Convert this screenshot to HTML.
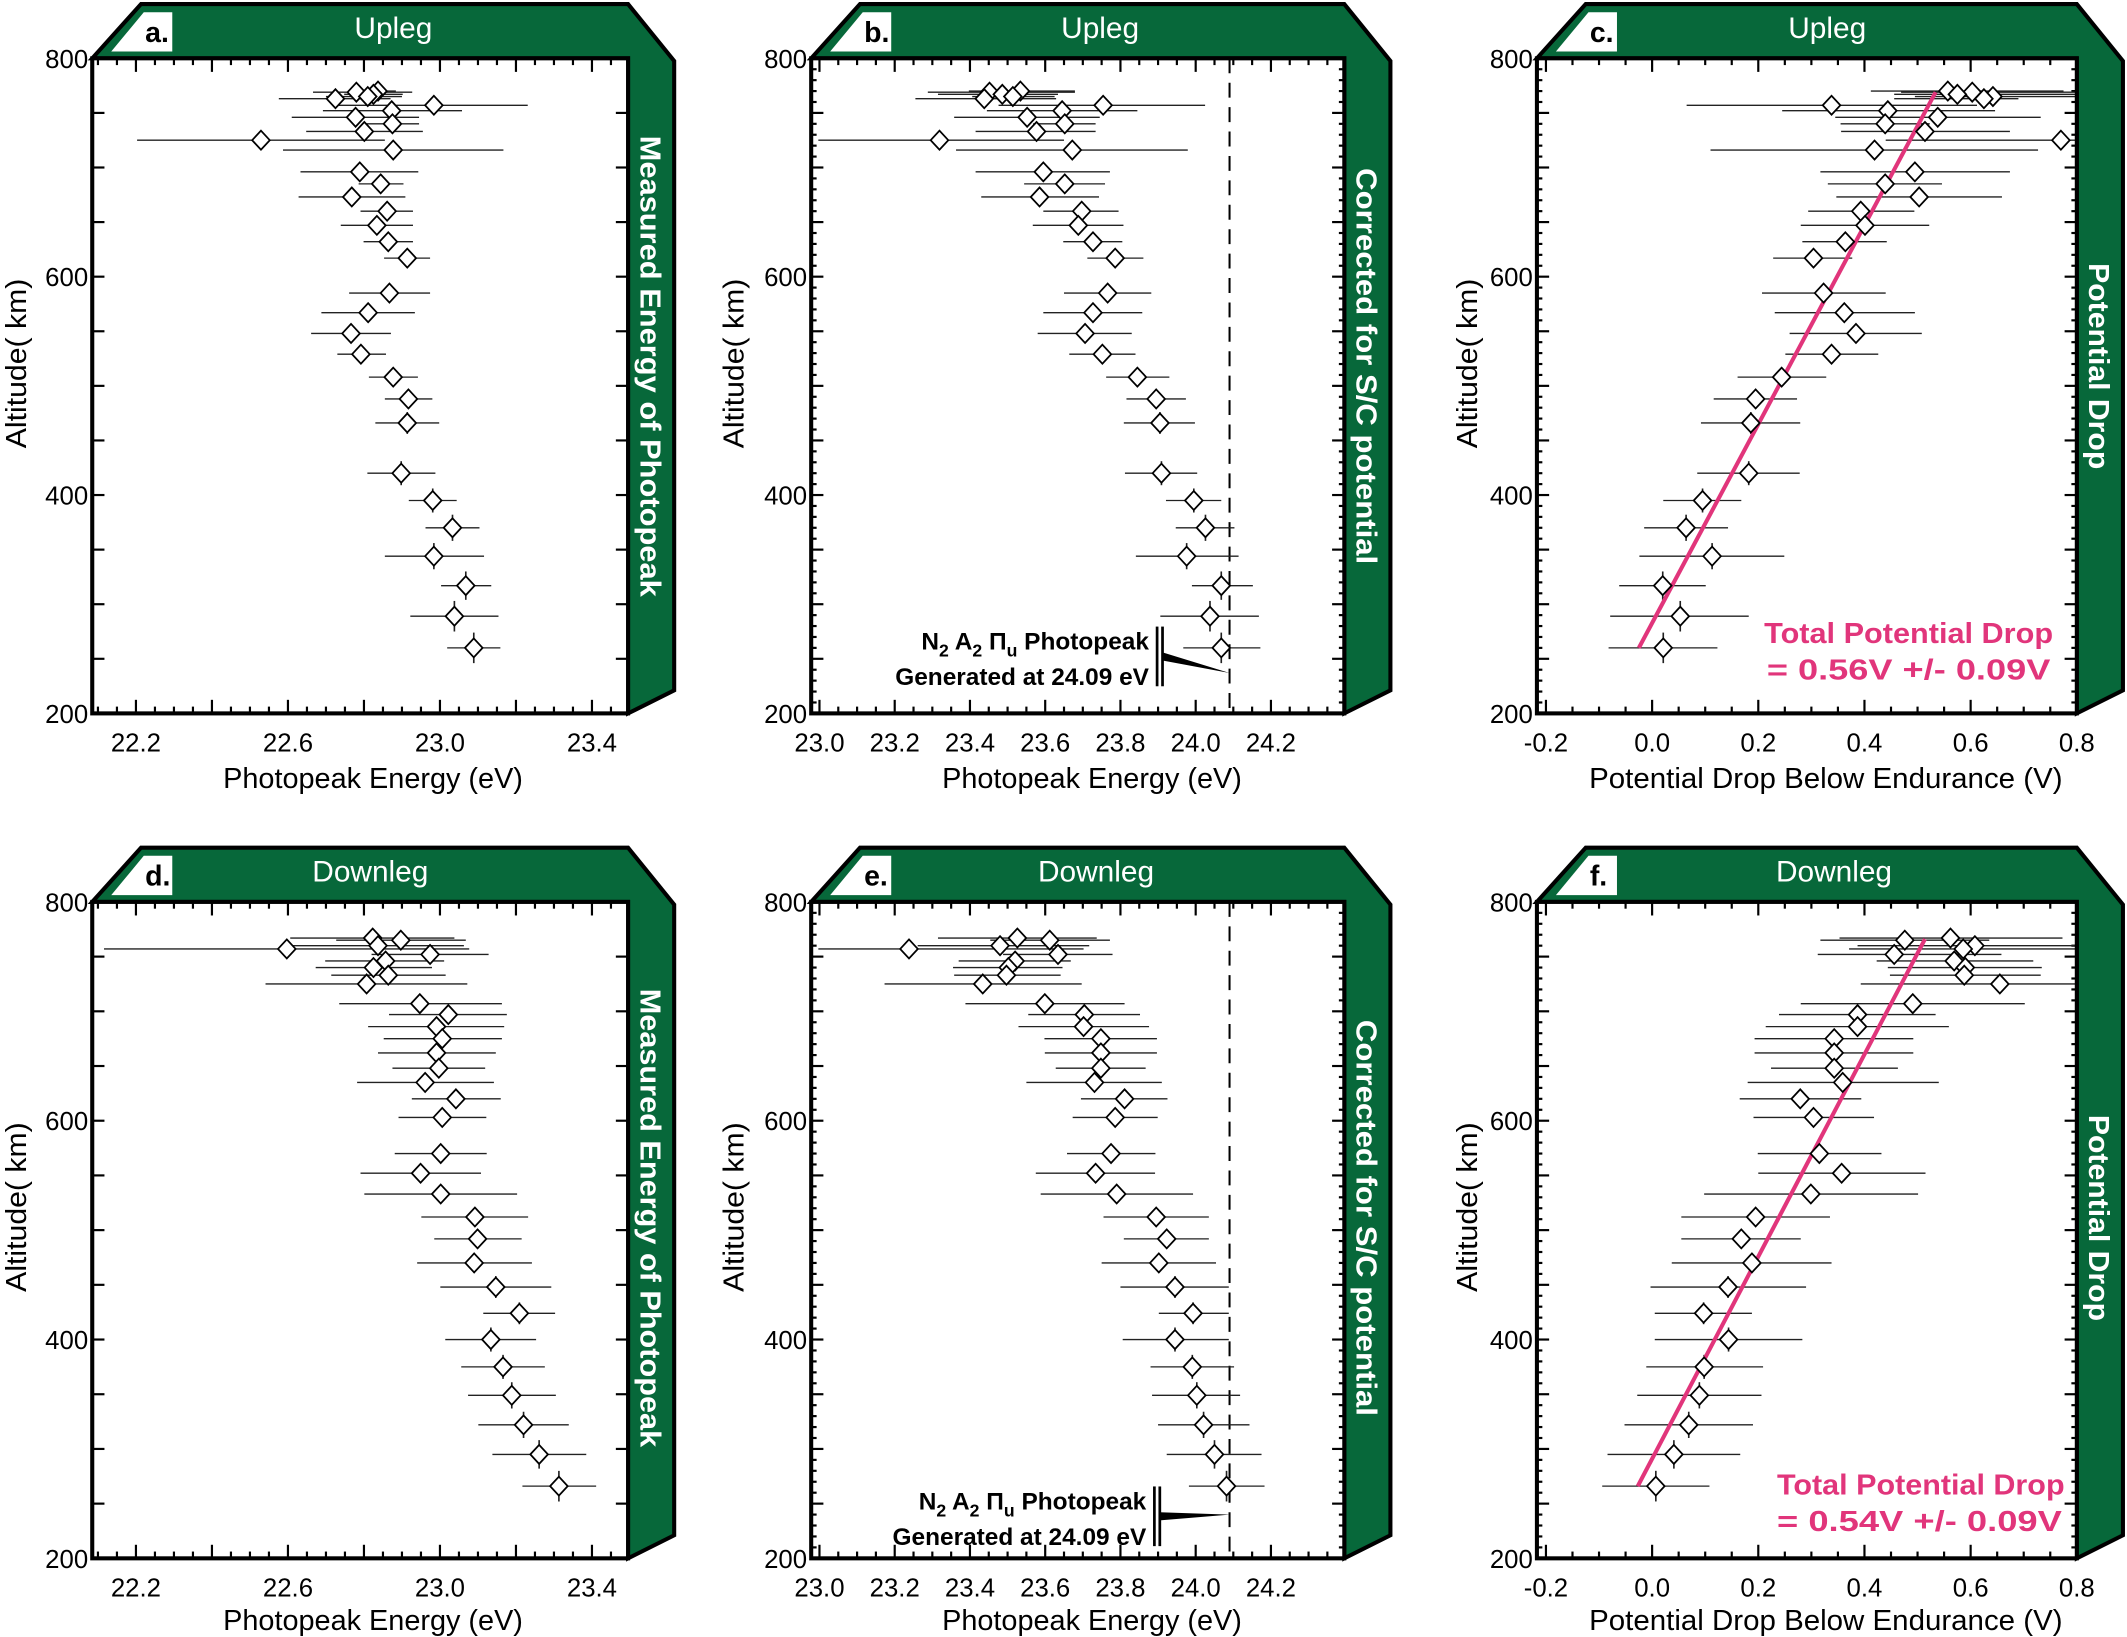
<!DOCTYPE html>
<html><head><meta charset="utf-8"><style>
html,body{margin:0;padding:0;background:#fff;}
svg{display:block;}
text{font-family:"Liberation Sans",sans-serif;}
</style></head><body>
<svg id="chart" xmlns="http://www.w3.org/2000/svg" width="2127" height="1637" viewBox="0 0 1568 1207" preserveAspectRatio="none">
<rect x="0" y="0" width="1568" height="1207" fill="#fff"/>
<g id="frames" fill="#07683a" stroke="#000" stroke-width="3" stroke-linejoin="miter">
<polygon points="68,43 104,3 463,3 497,45 497,509 463,526 463,43"/>
<polygon points="598,43 634,3 991,3 1025,45 1025,509 991,526 991,43"/>
<polygon points="1133,43 1169,3 1531,3 1565,45 1565,509 1531,526 1531,43"/>
<polygon points="68,665 104,625 463,625 497,667 497,1132 463,1149 463,665"/>
<polygon points="598,665 634,625 991,625 1025,667 1025,1132 991,1149 991,665"/>
<polygon points="1133,665 1169,625 1531,625 1565,667 1565,1132 1531,1149 1531,665"/>
</g>
<g fill="#fff">
<polygon points="82,38 106,9 127,9 127,38"/>
<polygon points="612,38 636,9 657,9 657,38"/>
<polygon points="1147,38 1171,9 1192,9 1192,38"/>
<polygon points="82,660 106,631 127,631 127,660"/>
<polygon points="612,660 636,631 657,631 657,660"/>
<polygon points="1147,660 1171,631 1192,631 1192,660"/>
</g>
<g font-size="21" font-weight="bold" fill="#000">
<text x="107" y="31">a.</text>
<text x="637" y="31">b.</text>
<text x="1172" y="31">c.</text>
<text x="107" y="653">d.</text>
<text x="637" y="653">e.</text>
<text x="1172" y="653">f.</text>
</g>
<g font-size="22" fill="#fff" text-anchor="middle">
<text x="290" y="28">Upleg</text>
<text x="811" y="28">Upleg</text>
<text x="1347" y="28">Upleg</text>
<text x="273" y="650">Downleg</text>
<text x="808" y="650">Downleg</text>
<text x="1352" y="650">Downleg</text>
</g>
<g font-size="21" fill="#fff" text-anchor="middle" font-weight="bold">
<text transform="translate(472,270) rotate(90)" textLength="340" lengthAdjust="spacingAndGlyphs">Measured Energy of Photopeak</text>
<text transform="translate(1000,270) rotate(90)" textLength="292" lengthAdjust="spacingAndGlyphs">Corrected for S/C potential</text>
<text transform="translate(1540,270) rotate(90)" textLength="152" lengthAdjust="spacingAndGlyphs">Potential Drop</text>
<text transform="translate(472,898) rotate(90)" textLength="338" lengthAdjust="spacingAndGlyphs">Measured Energy of Photopeak</text>
<text transform="translate(1000,898) rotate(90)" textLength="292" lengthAdjust="spacingAndGlyphs">Corrected for S/C potential</text>
<text transform="translate(1540,898) rotate(90)" textLength="152" lengthAdjust="spacingAndGlyphs">Potential Drop</text>
</g>
<g font-size="21" fill="#000" text-anchor="middle">
<text x="275" y="581" textLength="221" lengthAdjust="spacingAndGlyphs">Photopeak Energy (eV)</text>
<text x="805" y="581" textLength="221" lengthAdjust="spacingAndGlyphs">Photopeak Energy (eV)</text>
<text x="1346" y="581" textLength="349" lengthAdjust="spacingAndGlyphs">Potential Drop Below Endurance (V)</text>
<text x="275" y="1202" textLength="221" lengthAdjust="spacingAndGlyphs">Photopeak Energy (eV)</text>
<text x="805" y="1202" textLength="221" lengthAdjust="spacingAndGlyphs">Photopeak Energy (eV)</text>
<text x="1346" y="1202" textLength="349" lengthAdjust="spacingAndGlyphs">Potential Drop Below Endurance (V)</text>
<text transform="translate(19,268) rotate(-90)" textLength="125" lengthAdjust="spacingAndGlyphs">Altitude( km)</text>
<text transform="translate(548,268) rotate(-90)" textLength="125" lengthAdjust="spacingAndGlyphs">Altitude( km)</text>
<text transform="translate(1089,268) rotate(-90)" textLength="125" lengthAdjust="spacingAndGlyphs">Altitude( km)</text>
<text transform="translate(19,890) rotate(-90)" textLength="125" lengthAdjust="spacingAndGlyphs">Altitude( km)</text>
<text transform="translate(548,890) rotate(-90)" textLength="125" lengthAdjust="spacingAndGlyphs">Altitude( km)</text>
<text transform="translate(1089,890) rotate(-90)" textLength="125" lengthAdjust="spacingAndGlyphs">Altitude( km)</text>
</g>
<g id="plots"></g>
<g font-size="18" font-weight="bold" fill="#000" text-anchor="end">
<text x="847" y="479">N<tspan font-size="13" dy="5">2</tspan><tspan dy="-5"> A</tspan><tspan font-size="13" dy="5">2</tspan><tspan dy="-5"> Π</tspan><tspan font-size="13" dy="5">u</tspan><tspan dy="-5"> Photopeak</tspan></text>
<text x="847" y="505">Generated at 24.09 eV</text>
<text x="845" y="1113">N<tspan font-size="13" dy="5">2</tspan><tspan dy="-5"> A</tspan><tspan font-size="13" dy="5">2</tspan><tspan dy="-5"> Π</tspan><tspan font-size="13" dy="5">u</tspan><tspan dy="-5"> Photopeak</tspan></text>
<text x="845" y="1139">Generated at 24.09 eV</text>
</g>
<g font-size="21" font-weight="bold" fill="#e1357b" text-anchor="middle">
<text x="1407" y="474" textLength="213" lengthAdjust="spacingAndGlyphs">Total Potential Drop</text>
<text x="1407" y="501" textLength="209" lengthAdjust="spacingAndGlyphs">= 0.56V +/- 0.09V</text>
<text x="1416" y="1102" textLength="212" lengthAdjust="spacingAndGlyphs">Total Potential Drop</text>
<text x="1415" y="1129" textLength="210" lengthAdjust="spacingAndGlyphs">= 0.54V +/- 0.09V</text>
</g>
</svg>
<script>
// ---- data ----
const upAlt = [770,769,767,765,763,757,752,746,740,733,725,716,696,685,673,660,647,632,617,585,567,548,529,508,488,466,420,395,370,344,317,289,260];
const upYErr = [0,0,0,0,0,0,0,0,0,0,0,0,0,0,0,0,0,0,0,6,7,8,8,9,9,10,11,11,12,12,13,14,14];
const aVal = [22.837,22.780,22.825,22.81,22.725,22.984,22.873,22.778,22.875,22.801,22.529,22.877,22.789,22.844,22.768,22.861,22.834,22.864,22.914,22.867,22.811,22.766,22.792,22.877,22.917,22.914,22.898,22.981,23.033,22.984,23.068,23.038,23.089];
const aLo = [22.802,22.666,22.748,22.70,22.576,22.734,22.692,22.610,22.807,22.648,22.203,22.587,22.633,22.786,22.628,22.791,22.739,22.799,22.853,22.761,22.688,22.661,22.730,22.813,22.855,22.830,22.809,22.918,22.962,22.855,23.003,22.922,23.019];
const aHi = [22.884,22.927,22.902,22.90,22.870,23.231,23.058,22.945,22.945,22.955,22.855,23.167,22.943,22.904,22.909,22.929,22.929,22.929,22.974,22.974,22.934,22.871,22.858,22.942,22.980,22.998,22.988,23.044,23.104,23.116,23.135,23.154,23.159];
const bVal = [23.534,23.452,23.486,23.514,23.438,23.754,23.645,23.552,23.652,23.577,23.319,23.672,23.595,23.652,23.585,23.697,23.688,23.727,23.786,23.766,23.727,23.706,23.752,23.845,23.895,23.905,23.909,23.995,24.026,23.976,24.068,24.038,24.068];
const bLo = [23.397,23.288,23.315,23.406,23.255,23.476,23.445,23.358,23.568,23.415,22.997,23.363,23.415,23.544,23.430,23.595,23.567,23.648,23.712,23.650,23.595,23.580,23.664,23.762,23.816,23.809,23.812,23.921,23.947,23.841,23.990,23.906,23.967];
const bHi = [23.679,23.679,23.634,23.625,23.629,24.025,23.845,23.745,23.734,23.734,23.650,23.979,23.772,23.759,23.743,23.795,23.808,23.805,23.861,23.882,23.858,23.830,23.840,23.930,23.974,23.998,24.004,24.068,24.103,24.114,24.152,24.168,24.172];
const cVal = [0.557,0.603,0.575,0.642,0.625,0.338,0.444,0.538,0.439,0.514,0.770,0.419,0.495,0.439,0.503,0.393,0.401,0.364,0.304,0.323,0.362,0.384,0.338,0.244,0.195,0.186,0.182,0.095,0.064,0.113,0.020,0.053,0.021];
const cLo = [0.412,0.469,0.456,0.495,0.456,0.065,0.245,0.345,0.355,0.356,0.440,0.110,0.317,0.331,0.347,0.294,0.280,0.283,0.228,0.207,0.231,0.259,0.251,0.161,0.116,0.092,0.085,0.021,-0.015,-0.024,-0.062,-0.079,-0.082];
const cHi = [0.775,0.90,0.90,0.90,0.69,0.612,0.646,0.732,0.523,0.674,0.90,0.727,0.674,0.546,0.659,0.494,0.522,0.442,0.377,0.440,0.495,0.508,0.426,0.328,0.273,0.279,0.278,0.168,0.143,0.249,0.101,0.182,0.123];
const cFitX = [-0.025,0.534];
const cFitAlt = [260,769];

const downAlt = [767,765,760,757,752,746,740,733,725,707,697,686,675,662,648,635,620,603,570,552,533,512,492,470,448,424,400,375,349,322,295,266];
const downYErr = [0,0,0,0,0,0,0,0,0,0,0,0,0,0,0,0,0,0,6,7,8,8,9,9,10,10,11,11,12,12,13,14];
const dVal = [22.823,22.897,22.837,22.597,22.974,22.857,22.825,22.864,22.807,22.947,23.022,22.991,23.006,22.991,22.997,22.961,23.042,23.006,23.002,22.949,23.002,23.092,23.099,23.090,23.147,23.209,23.134,23.166,23.189,23.220,23.261,23.313];
const dLo = [22.606,22.727,22.603,22.116,22.820,22.698,22.673,22.714,22.541,22.735,22.866,22.811,22.852,22.837,22.875,22.782,22.926,22.891,22.881,22.791,22.801,22.951,22.985,22.940,23.001,23.114,23.014,23.056,23.074,23.101,23.138,23.217];
const dHi = [23.038,23.068,23.063,23.077,23.128,23.011,22.979,23.015,23.072,23.163,23.176,23.169,23.163,23.147,23.119,23.142,23.160,23.122,23.123,23.108,23.203,23.232,23.215,23.242,23.293,23.303,23.253,23.276,23.305,23.339,23.385,23.411];
const eVal = [23.526,23.612,23.480,23.238,23.634,23.520,23.502,23.497,23.434,23.599,23.704,23.702,23.748,23.748,23.748,23.731,23.811,23.786,23.775,23.734,23.790,23.895,23.923,23.902,23.945,23.993,23.945,23.991,24.003,24.021,24.050,24.082];
const eLo = [23.315,23.454,23.261,22.997,23.488,23.370,23.355,23.358,23.173,23.388,23.555,23.529,23.598,23.599,23.628,23.550,23.695,23.673,23.658,23.575,23.588,23.755,23.809,23.750,23.800,23.902,23.806,23.880,23.884,23.900,23.923,23.982];
const eHi = [23.737,23.772,23.717,23.702,23.779,23.668,23.646,23.641,23.697,23.811,23.852,23.876,23.897,23.897,23.867,23.910,23.925,23.899,23.893,23.892,23.993,24.035,24.035,24.054,24.088,24.088,24.088,24.102,24.118,24.143,24.175,24.183];
const fVal = [0.562,0.476,0.608,0.586,0.456,0.569,0.590,0.588,0.655,0.491,0.387,0.387,0.343,0.343,0.343,0.359,0.279,0.304,0.315,0.357,0.299,0.195,0.168,0.188,0.143,0.097,0.144,0.098,0.089,0.069,0.041,0.007];
const fLo = [0.353,0.317,0.387,0.371,0.312,0.423,0.444,0.448,0.393,0.280,0.239,0.214,0.193,0.193,0.224,0.180,0.165,0.191,0.199,0.200,0.098,0.055,0.055,0.037,-0.003,0.005,0.005,-0.011,-0.028,-0.052,-0.084,-0.094];
const fHi = [0.773,0.635,0.90,0.90,0.658,0.718,0.734,0.732,0.90,0.702,0.534,0.559,0.492,0.492,0.463,0.540,0.394,0.418,0.432,0.515,0.501,0.335,0.280,0.338,0.290,0.188,0.283,0.209,0.206,0.190,0.166,0.108];
const fFitX = [-0.027,0.514];
const fFitAlt = [266,766];

const energyTicksA = [22.2,22.4,22.6,22.8,23.0,23.2,23.4];
const energyLabelsA = ["22.2","22.6","23.0","23.4"];
const energyTicksB = [23.0,23.2,23.4,23.6,23.8,24.0,24.2];
const energyLabelsB = ["23.0","23.2","23.4","23.6","23.8","24.0","24.2"];
const voltTicks = [-0.2,0.0,0.2,0.4,0.6,0.8];
const voltLabels = ["-0.2","0.0","0.2","0.4","0.6","0.8"];
const altLabels = ["200","400","600","800"];
const photopeakEnergy = [24.09];

// ---- drawing ----
const NS = 'http://www.w3.org/2000/svg';
const root = document.getElementById('plots');
function mk(tag, parent){ const e = document.createElementNS(NS, tag); parent.appendChild(e); return e; }
function at(e, o){ for (const k in o) e.setAttribute(k, o[k]); return e; }

function panel(id, L, R, T, B, d0, d1, majors, labels, minorStep, fineY, alt, yerr, val, lo, hi, fitX, fitAlt, dashAt){
  const g = mk('g', root);
  
  
  const sx = v => L + (v - d0) / (d1 - d0) * (R - L);
  const sy = a => T + (800 - a) / 600 * (B - T);
  const cp = mk('clipPath', g); at(cp, {id: 'clip-' + id});
  at(mk('rect', cp), {x: L, y: T, width: R - L, height: B - T});
  const bg = mk('rect', g);
  at(bg, {x: L, y: T, width: R - L, height: B - T, fill: '#fff'});
  
  
  // ticks
  const tk = mk('g', g); at(tk, {stroke: '#000', 'stroke-width': 1.6});
  const step = majors[1] - majors[0];
  for (let v = majors[0] - 4 * minorStep; v <= d1 + 1e-9; v += minorStep) {
    if (v < d0) continue;
    const isMaj = Math.abs(((v - majors[0]) / step) - Math.round((v - majors[0]) / step)) < 1e-6;
    const len = isMaj ? 10 : 5;
    const x = sx(v);
    at(mk('line', tk), {x1: x, x2: x, y1: B, y2: B - len});
    at(mk('line', tk), {x1: x, x2: x, y1: T, y2: T + len});
  }
  for (let a = 200; a <= 800; a += (fineY ? 10 : 50)) {
    const len = a % 50 === 0 ? 9 : 4;
    const y = sy(a);
    at(mk('line', tk), {x1: L, x2: L + len, y1: y, y2: y});
    at(mk('line', tk), {x1: R, x2: R - len, y1: y, y2: y});
  }
  // tick labels
  labels.forEach(s => {
    const t = mk('text', g);
    at(t, {x: sx(parseFloat(s)), y: B + 28, 'font-size': 19, 'text-anchor': 'middle'});
    t.textContent = s;
    
    
  });
  altLabels.forEach(s => {
    const t = mk('text', g);
    at(t, {x: L - 3, y: sy(parseFloat(s)) + 7, 'font-size': 19, 'text-anchor': 'end'});
    t.textContent = s;
    
    
  });
  const dg = mk('g', g); at(dg, {'clip-path': 'url(#clip-' + id + ')'});
  if (dashAt !== null) {
    const dl = mk('line', dg);
    at(dl, {x1: sx(dashAt), x2: sx(dashAt), y1: T, y2: B, stroke: '#000', 'stroke-width': 1.5, 'stroke-dasharray': '11,7'});
    
    
  }
  // error bars
  val.forEach((v, i) => {
    const y = sy(alt[i]);
    const eb = mk('line', dg);
    at(eb, {x1: sx(lo[i]), x2: sx(hi[i]), y1: y, y2: y, stroke: '#222', 'stroke-width': 1});
    
    
    if (yerr[i] > 0) {
      const vb = mk('line', dg);
      at(vb, {x1: sx(v), x2: sx(v), y1: sy(alt[i] + yerr[i]), y2: sy(alt[i] - yerr[i]), stroke: '#222', 'stroke-width': 1.2});
      
      
    }
  });
  if (fitX) {
    const fl = mk('line', dg);
    at(fl, {x1: sx(fitX[0]), y1: sy(fitAlt[0]), x2: sx(fitX[1]), y2: sy(fitAlt[1]), stroke: '#e1357b', 'stroke-width': 3});
    
    
  }
  val.forEach((v, i) => {
    const x = sx(v), y = sy(alt[i]);
    const p = mk('polygon', dg);
    at(p, {points: `${x-6.5},${y} ${x},${y-7} ${x+6.5},${y} ${x},${y+7}`, fill: '#fff', stroke: '#000', 'stroke-width': 1.3});
    
    
  });
  const bx = mk('rect', g);
  at(bx, {x: L, y: T, width: R - L, height: B - T, fill: 'none', stroke: '#000', 'stroke-width': 3});
  
  
  return {sx, sy};
}

panel('a', 68, 463, 43, 526, 22.085, 23.495, energyTicksA, energyLabelsA, 0.05, false, upAlt, upYErr, aVal, aLo, aHi, null, null, null);
const pb = panel('b', 598, 991, 43, 526, 22.978, 24.395, energyTicksB, energyLabelsB, 0.05, true, upAlt, upYErr, bVal, bLo, bHi, null, null, photopeakEnergy[0]);
panel('c', 1133, 1531, 43, 526, -0.217, 0.80, voltTicks, voltLabels, 0.05, true, upAlt, upYErr, cVal, cLo, cHi, cFitX, cFitAlt, null);
panel('d', 68, 463, 665, 1149, 22.085, 23.495, energyTicksA, energyLabelsA, 0.05, false, downAlt, downYErr, dVal, dLo, dHi, null, null, null);
const pe = panel('e', 598, 991, 665, 1149, 22.978, 24.395, energyTicksB, energyLabelsB, 0.05, true, downAlt, downYErr, eVal, eLo, eHi, null, null, photopeakEnergy[0]);
panel('f', 1133, 1531, 665, 1149, -0.217, 0.80, voltTicks, voltLabels, 0.05, true, downAlt, downYErr, fVal, fLo, fHi, fFitX, fFitAlt, null);

// annotation pointers
function pointer(p, barX, yTop, yBot, yMid, altTarget, name){
  const g = mk('g', root);
  
  
  at(mk('line', g), {x1: barX, x2: barX, y1: yTop, y2: yBot, stroke: '#000', 'stroke-width': 2});
  at(mk('line', g), {x1: barX + 4, x2: barX + 4, y1: yTop, y2: yBot, stroke: '#000', 'stroke-width': 2});
  at(mk('polygon', g), {points: `${barX+4},${yMid-3} ${barX+4},${yMid+3} ${p.sx(photopeakEnergy[0])},${p.sy(altTarget)}`, fill: '#000'});
}
pointer(pb, 853, 462, 506, 484, 237, 'panel-b-annotation-pointer');
pointer(pe, 851, 1096, 1140, 1118, 240, 'panel-e-annotation-pointer');
</script>
</body></html>
